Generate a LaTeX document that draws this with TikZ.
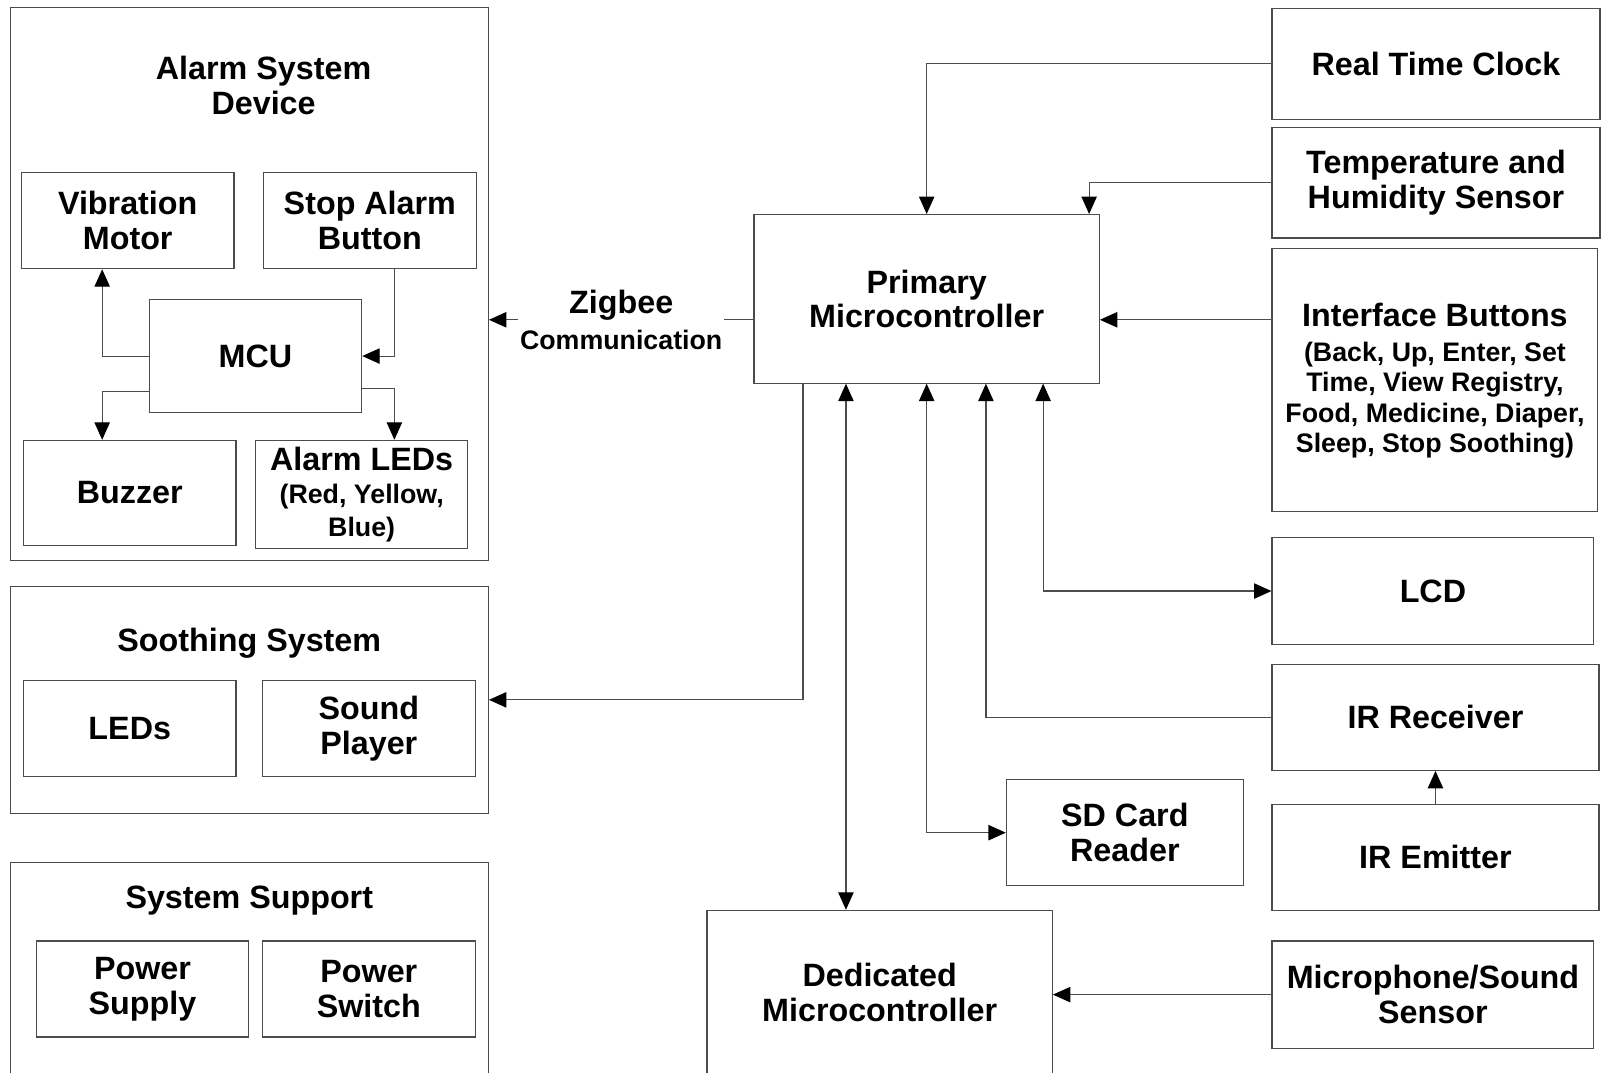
\documentclass[tikz,border=0pt]{standalone}
\usepackage{fontspec}
\setmainfont{Liberation Sans}
\usetikzlibrary{arrows.meta}
\newcommand\bigtxt{\fontsize{31.6}{34}\selectfont\bfseries}
\newcommand\smalltxt{\fontsize{26.2}{30}\selectfont\bfseries}
\begin{document}
\begin{tikzpicture}[x=1pt,y=-1pt,
  lin/.style={draw=black!70, line width=1.1pt},
  box/.style={lin, align=center, inner sep=0pt, font=\bigtxt},
  title/.style={align=center, inner sep=0pt, font=\bigtxt},
  tip/.tip={Triangle[length=17pt,width=15pt,color=black,fill=black]},
  arr/.style={lin, -tip},
  arrb/.style={lin, tip-tip}
]
\useasboundingbox (0,0) rectangle (1568,1050);
% containers
\node[box, minimum width=468, minimum height=542] (asd) at (244,278) {};
\node[title] (asdt) at (258,84) {Alarm System\\Device};
\node[box, minimum width=468, minimum height=222] (soo) at (244,685) {};
\node[title] (soot) at (244,630) {Soothing System};
\node[box, minimum width=468, minimum height=216] (sup) at (244,952) {};
\node[title] (supt) at (244,881) {System Support};
% alarm system inner
\node[box, minimum width=208, minimum height=94] (vm) at (125,216) {Vibration\\Motor};
\node[box, minimum width=208, minimum height=94] (sab) at (362,216) {Stop Alarm\\Button};
\node[box, minimum width=208, minimum height=111] (mcu) at (250,348.5) {MCU};
\node[box, minimum width=208, minimum height=103] (buz) at (127,482.5) {Buzzer};
\node[box, minimum width=208, minimum height=106] (aleds) at (354,484) {Alarm LEDs\\[-2pt]\smalltxt (Red, Yellow,\\[-2pt]\smalltxt Blue)};
% soothing inner
\node[box, minimum width=208, minimum height=94] (leds) at (127,713) {LEDs};
\node[box, minimum width=208, minimum height=94] (spl) at (361,713) {Sound\\Player};
% support inner
\node[box, minimum width=207, minimum height=94] (psu) at (139.5,968) {Power\\Supply};
\node[box, minimum width=208, minimum height=94] (psw) at (361,968) {Power\\Switch};
% main
\node[box, minimum width=338, minimum height=165] (pm) at (907,292.5) {Primary\\Microcontroller};
\node[box, minimum width=321, minimum height=109] (rtc) at (1405.5,62.5) {Real Time Clock};
\node[box, minimum width=321, minimum height=108] (th) at (1405.5,179) {Temperature and\\Humidity Sensor};
\node[box, minimum width=319, minimum height=258, text depth=4pt] (ib) at (1404.5,372) {Interface Buttons\\\smalltxt (Back, Up, Enter, Set\\[-4.3pt]\smalltxt Time, View Registry,\\[-4.3pt]\smalltxt Food, Medicine, Diaper,\\[-4.3pt]\smalltxt Sleep, Stop Soothing)};
\node[box, minimum width=315, minimum height=105] (lcd) at (1402.5,578.5) {LCD};
\node[box, minimum width=320, minimum height=104] (irr) at (1405,702) {IR Receiver};
\node[box, minimum width=320, minimum height=104] (ire) at (1405,839) {IR Emitter};
\node[box, minimum width=315, minimum height=105] (mic) at (1402.5,973.5) {Microphone/Sound\\Sensor};
\node[box, minimum width=232, minimum height=104] (sd) at (1101,815) {SD Card\\Reader};
\node[box, minimum width=338, minimum height=161] (dmc) at (861,971.5) {Dedicated\\Microcontroller};
% helper coordinates
\coordinate (zy) at (0,313);
\coordinate (xa) at (100,0);
\coordinate (xb) at (386,0);
\coordinate (ya) at (0,383);
\coordinate (yb) at (0,380);
\coordinate (xs) at (786,0);
\coordinate (xd) at (828,0);
\coordinate (xi) at (965,0);
\coordinate (xl) at (1021,0);
\coordinate (xt) at (1066,0);
% alarm connectors
\draw[arr] (mcu.west) -| (vm.south -| xa);
\draw[arr] (sab.south -| xb) |- (mcu.east);
\draw[arr] (mcu.west |- ya) -| (buz.north -| xa);
\draw[arr] (mcu.east |- yb) -| (aleds.north -| xb);
% main connectors
\draw[arr] (pm.west |- zy) -- node[fill=white, inner xsep=2pt, inner ysep=0pt, align=center, font=\bigtxt] (zig) {Zigbee\\[1pt]\smalltxt Communication} (asd.east |- zy);
\draw[arr] (rtc.west) -| (pm.north);
\draw[arr] (th.west) -| (pm.north -| xt);
\draw[arr] (ib.west |- zy) -- (pm.east |- zy);
\draw[arr] (pm.south -| xs) |- (soo.east);
\draw[arrb] (pm.south -| xd) -- (dmc.north -| xd);
\draw[arrb] (pm.south) |- (sd.west);
\draw[arr] (irr.west) -| (pm.south -| xi);
\draw[arrb] (pm.south -| xl) |- (lcd.west);
\draw[arr] (ire.north) -- (irr.south);
\draw[arr] (mic.west) -- (dmc.east |- mic.west);
\end{tikzpicture}
\end{document}
